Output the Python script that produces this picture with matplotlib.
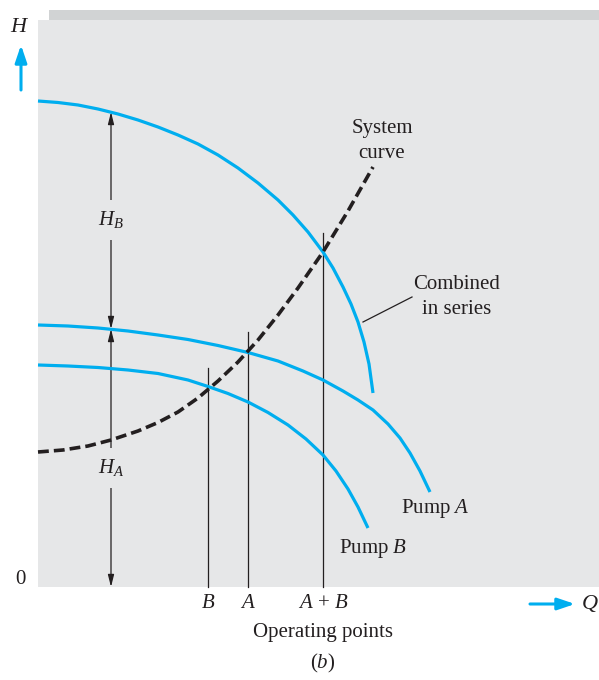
import matplotlib
matplotlib.use("Agg")
import matplotlib.pyplot as plt
from matplotlib.patches import Rectangle

plt.rcParams['font.family'] = ['Liberation Serif', 'DejaVu Serif']
plt.rcParams['mathtext.fontset'] = 'custom'
plt.rcParams['mathtext.rm'] = 'Liberation Serif'
plt.rcParams['mathtext.it'] = 'Liberation Serif:italic'

# ---- data (arbitrary units) ----
combined_q = [0, 20, 40, 60, 80, 100, 120, 140, 160, 180, 200, 220, 240, 255, 270,
              285, 295, 305, 313, 320, 326, 331, 335]
combined_h = [486, 484.5, 482, 478, 473, 467, 460, 452, 443, 432, 419, 404, 387, 372, 355,
              335, 319, 300, 283, 265, 245, 223, 194]

pump_a_q = [0, 30, 60, 90, 120, 150, 180, 210, 240, 265, 285, 305, 320, 335, 350, 362, 372, 382, 392]
pump_a_h = [262, 261, 259, 256, 252, 247.5, 241.5, 234.5, 226, 216, 207, 196, 187, 177, 163, 149, 134, 116, 95]

pump_b_q = [0, 30, 60, 90, 120, 150, 170, 190, 210, 230, 250, 268, 285, 298, 310, 320, 330]
pump_b_h = [222, 221, 219.5, 217, 213.5, 207, 200.5, 193.5, 185, 174.5, 162, 148, 132, 116, 98, 80, 59]

system_q = [0, 25, 50, 73, 100, 120, 140, 160, 180, 200, 220, 240, 260, 285, 310, 335]
system_h = [135, 137, 141, 147, 156, 164.5, 175, 189, 206, 225, 247, 272, 299, 335, 376, 420]

op_q = [170, 210, 285]
op_top = [219, 255, 354]
op_labels = ['$B$', '$A$', '$A$ + $B$']

q_hb = 73
hb_range = [258, 475]
ha_range = [0, 258]

BLUE = '#00AEEF'
PANEL = '#E6E7E8'
STRIP = '#D1D3D4'
TXT = '#231F20'
FS = 15

fig = plt.figure(figsize=(5.99, 6.80), dpi=100)
ax = fig.add_axes([0, 0, 1, 1])
ax.set_xlim(-38, 561)
ax.set_ylim(-93, 587)
ax.axis('off')

ax.add_patch(Rectangle((11, 567), 550, 10, facecolor=STRIP, edgecolor='none', zorder=0))
ax.add_patch(Rectangle((0, 0), 561, 567, facecolor=PANEL, edgecolor='none', zorder=0))

lw_c = 2.3
for qq, hh in [(combined_q, combined_h), (pump_a_q, pump_a_h), (pump_b_q, pump_b_h)]:
    ax.plot(qq, hh, color=BLUE, lw=lw_c, solid_capstyle='butt', solid_joinstyle='round', zorder=3)
ax.plot(system_q, system_h, color=TXT, lw=2.6, dashes=(3.0, 1.4), zorder=4)

for q, top in zip(op_q, op_top):
    ax.plot([q, q], [0, top], color=TXT, lw=0.9, zorder=2)
for q, lab in zip(op_q, op_labels):
    ax.text(q, -17, lab, ha='center', va='center', fontsize=FS, color=TXT)

ap = dict(arrowstyle='<|-|>,head_length=0.8,head_width=0.2', color=TXT, lw=0.9,
          mutation_scale=9, shrinkA=0, shrinkB=0)
ax.annotate('', xy=(q_hb, hb_range[1]), xytext=(q_hb, hb_range[0]), arrowprops=ap, zorder=2)
ax.annotate('', xy=(q_hb, ha_range[1]), xytext=(q_hb, ha_range[0]), arrowprops=ap, zorder=2)
bb = dict(facecolor=PANEL, edgecolor='none', pad=7)
ax.text(q_hb, 367, '$H_B$', ha='center', va='center', fontsize=FS, color=TXT, bbox=bb, zorder=3)
ax.text(q_hb, 119, '$H_A$', ha='center', va='center', fontsize=FS, color=TXT, bbox=bb, zorder=3)

ax.text(344, 446, 'System\ncurve', ha='center', va='center', fontsize=FS, color=TXT, linespacing=1.45)
ax.text(419, 290, 'Combined\nin series', ha='center', va='center', fontsize=FS, color=TXT, linespacing=1.45)
ax.plot([325, 374], [265, 290], color=TXT, lw=0.9)
ax.text(397, 79, 'Pump $A$', ha='center', va='center', fontsize=FS, color=TXT)
ax.text(335, 39, 'Pump $B$', ha='center', va='center', fontsize=FS, color=TXT)

ax.text(-18, 7, '0', ha='center', va='center', fontsize=FS, color=TXT)
ax.text(-18, 559, '$H$', ha='center', va='center', fontsize=16, color=TXT)
arr = dict(arrowstyle='-|>,head_length=0.65,head_width=0.22', color=BLUE, lw=2.2,
           mutation_scale=16, shrinkA=0, shrinkB=0)
ax.annotate('', xy=(-17, 542), xytext=(-17, 497), arrowprops=arr)
ax.annotate('', xy=(537, -17), xytext=(492, -17), arrowprops=arr)
ax.text(552, -17, '$Q$', ha='center', va='center', fontsize=16, color=TXT)

ax.text(285, -46, 'Operating points', ha='center', va='center', fontsize=FS, color=TXT)
ax.text(285, -76, '($b$)', ha='center', va='center', fontsize=FS, color=TXT)

fig.savefig('out.png', dpi=100)
